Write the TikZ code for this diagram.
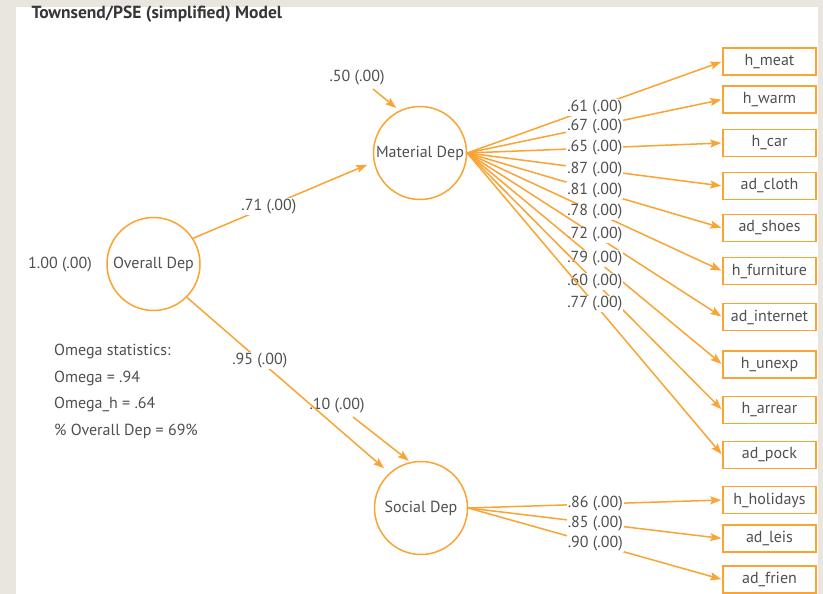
\documentclass[tikz,border=0pt]{standalone}
\usepackage{fontspec}
\setmainfont{PT Sans}
\usetikzlibrary{arrows.meta,positioning,calc}
\definecolor{semorange}{RGB}{250,164,52}
\definecolor{textgray}{RGB}{80,80,80}
\definecolor{titlegray}{RGB}{55,55,55}
\definecolor{framegray}{RGB}{233,230,224}

\begin{document}
\begin{tikzpicture}[
    x=1pt, y=-1pt,
    font=\fontsize{16}{18}\selectfont,
    text=textgray,
    latent/.style={circle,draw=semorange,line width=1.5pt,minimum size=93pt,inner sep=0pt},
    indicator/.style={draw=semorange,line width=1.5pt,minimum width=93pt,minimum height=27pt,inner sep=0pt},
    arrow/.style={draw=semorange,line width=1.5pt,-{Stealth[length=11pt,width=8pt,inset=2pt]}},
    coef/.style={fill=white,inner sep=1pt,text=textgray}
]
    % page and frame
    \fill[framegray] (0,0) rectangle (823,594);
    \fill[white] (16,7) rectangle (818,594);
    \useasboundingbox (0,0) rectangle (823,594);

    \node[anchor=base west,font=\bfseries\fontsize{17.5}{20}\selectfont,text=titlegray] (title) at (28,19) {Townsend/PSE (simplified) Model};

    % latent factors
    \node[latent] (ovr) at (153.5,264) {Overall Dep};
    \node[latent] (mat) at (420,153) {Material Dep};
    \node[latent] (soc) at (421,508) {Social Dep};

    % indicators
    \node[indicator] (hmeat) at (769.5,61.5) {h\_meat};
    \node[indicator] (hwarm) at (769.5,99.5) {h\_warm};
    \node[indicator] (hcar) at (769.5,143) {h\_car};
    \node[indicator] (adcloth) at (769.5,186) {ad\_cloth};
    \node[indicator] (adshoes) at (769.5,228) {ad\_shoes};
    \node[indicator] (hfurn) at (769.5,271) {h\_furniture};
    \node[indicator] (adinter) at (769.5,317) {ad\_internet};
    \node[indicator] (hunexp) at (769.5,364.5) {h\_unexp};
    \node[indicator] (harrear) at (769.5,410) {h\_arrear};
    \node[indicator] (adpock) at (769.5,455) {ad\_pock};
    \node[indicator] (hholi) at (769.5,500) {h\_holidays};
    \node[indicator] (adleis) at (769.5,538.5) {ad\_leis};
    \node[indicator] (adfrien) at (769.5,579.5) {ad\_frien};

    % variances
    \node (vovr) at (60,265) {1.00 (.00)};
    \node (r50) at (357,78) {.50 (.00)};
    \node (r10) at (337,406) {.10 (.00)};

    \node[anchor=north west,align=left,inner sep=0pt,font=\fontsize{16}{26.5}\selectfont] (omega) at (54,344)
        {Omega statistics:\\Omega = .94\\Omega\_h = .64\\\% Overall Dep = 69\%};

    % second order loadings
    \draw[arrow,shorten >=7pt] (ovr.33) -- node[coef,pos=0.42]{.71 (.00)} (mat.191);
    \draw[arrow,shorten >=7pt] (ovr.-45) -- node[coef,pos=0.36]{.95 (.00)} (soc.132);
    \draw[arrow,shorten >=4pt] ($(r50.south)+(16,0)$) -- (mat.116);
    \draw[arrow,shorten >=2pt] ($(r10.south)+(16,0)$) -- (soc.103);

    % material loadings
    \draw[arrow,shorten >=1pt] (mat.east) -- node[coef]{.61 (.00)} (hmeat.west);
    \draw[arrow,shorten >=1pt] (mat.east) -- node[coef]{.67 (.00)} (hwarm.west);
    \draw[arrow,shorten >=1pt] (mat.east) -- node[coef]{.65 (.00)} (hcar.west);
    \draw[arrow,shorten >=1pt] (mat.east) -- node[coef]{.87 (.00)} (adcloth.west);
    \draw[arrow,shorten >=1pt] (mat.east) -- node[coef]{.81 (.00)} (adshoes.west);
    \draw[arrow,shorten >=1pt] (mat.east) -- node[coef]{.78 (.00)} (hfurn.west);
    \draw[arrow,shorten >=1pt] (mat.east) -- node[coef]{.72 (.00)} (adinter.west);
    \draw[arrow,shorten >=1pt] (mat.east) -- node[coef]{.79 (.00)} (hunexp.west);
    \draw[arrow,shorten >=1pt] (mat.east) -- node[coef]{.60 (.00)} (harrear.west);
    \draw[arrow,shorten >=1pt] (mat.east) -- node[coef]{.77 (.00)} (adpock.west);

    % social loadings
    \draw[arrow,shorten >=1pt] (soc.east) -- node[coef]{.86 (.00)} (hholi.west);
    \draw[arrow,shorten >=1pt] (soc.east) -- node[coef]{.85 (.00)} (adleis.west);
    \draw[arrow,shorten >=1pt] (soc.east) -- node[coef]{.90 (.00)} (adfrien.west);
\end{tikzpicture}
\end{document}
